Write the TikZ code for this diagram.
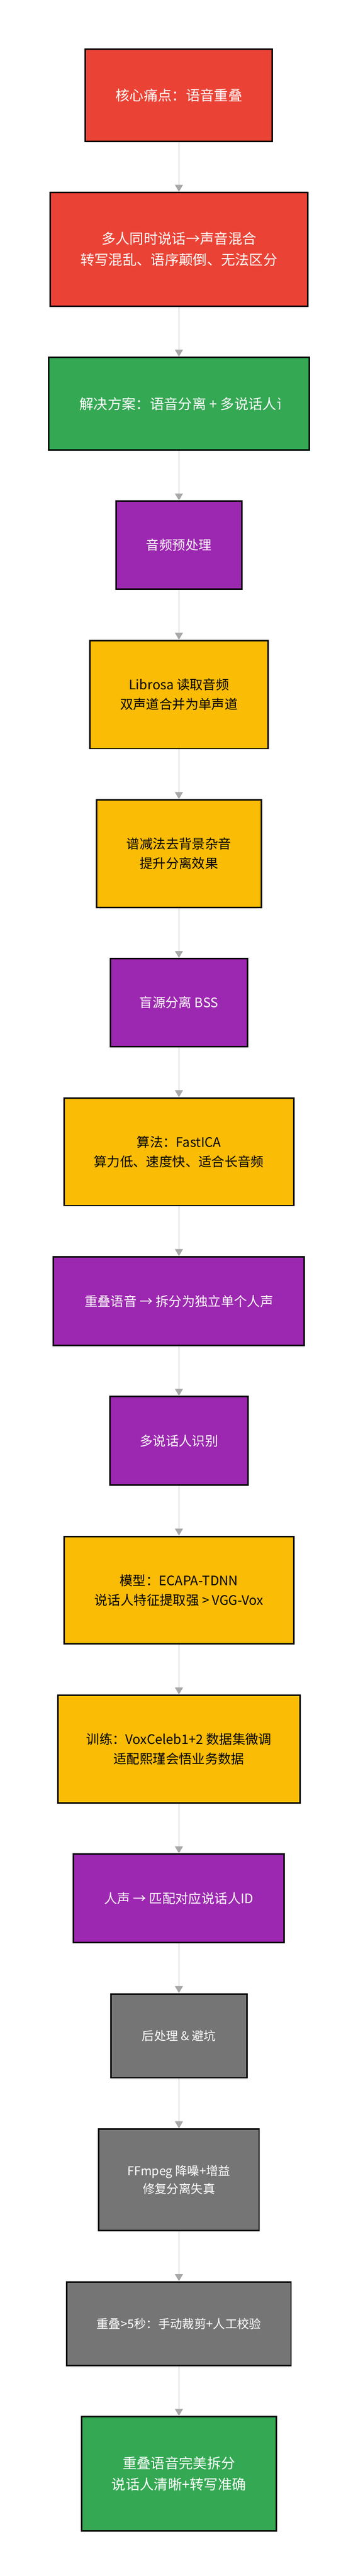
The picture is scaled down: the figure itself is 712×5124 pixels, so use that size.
\documentclass[tikz,border=0pt]{standalone}
\usepackage{fontspec}
\setmainfont{Noto Sans CJK SC}
\usepackage{tikz}
\usetikzlibrary{arrows.meta,positioning}

\definecolor{painred}{HTML}{EA4335}
\definecolor{okgreen}{HTML}{34A853}
\definecolor{stagepurple}{HTML}{9C27B0}
\definecolor{stepyellow}{HTML}{FABC05}
\definecolor{postgray}{HTML}{757575}
\definecolor{linkgray}{HTML}{A8A8A8}

\begin{document}
\begin{tikzpicture}[node distance=99pt, ->, >={Triangle[width=16pt,length=14pt]},
  box/.style={rectangle, draw=black, line width=3pt, align=center, inner sep=0pt},
  redbox/.style={box, fill=painred, text=white, font=\fontsize{28pt}{42pt}\selectfont},
  greenbox/.style={box, fill=okgreen, text=white, font=\fontsize{28pt}{42pt}\selectfont},
  purplebox/.style={box, fill=stagepurple, text=white, font=\fontsize{26pt}{39pt}\selectfont},
  yellowbox/.style={box, fill=stepyellow, text=black, font=\fontsize{26pt}{39pt}\selectfont},
  graybox/.style={box, fill=postgray, text=white, font=\fontsize{24pt}{36pt}\selectfont},
  link/.style={draw=linkgray, line width=1.4pt}]
\useasboundingbox (0,0) rectangle (712pt,-5124pt);

% problem
\node (pain) [redbox, minimum width=372pt, minimum height=183pt, anchor=north] at (356pt,-96.5pt) {核心痛点：语音重叠};
\node (mix) [redbox, minimum width=512pt, minimum height=226pt, below=of pain] {多人同时说话→声音混合\\转写混乱、语序颠倒、无法区分};
\node (solve) [greenbox, minimum width=519pt, minimum height=184pt, below=of mix] {};
\begin{scope}
\clip (solve.south west) rectangle ([xshift=-60pt]solve.north east);
\node (solvetext) [greenbox, draw=none, fill=none, anchor=west] at ([xshift=62pt]solve.west) {解决方案：语音分离 + 多说话人识别};
\end{scope}

% preprocessing
\node (prep) [purplebox, minimum width=250pt, minimum height=175pt, below=of solve] {音频预处理};
\node (load) [yellowbox, minimum width=354pt, minimum height=215pt, below=of prep] {Librosa 读取音频\\双声道合并为单声道};
\node (denoise) [yellowbox, minimum width=328pt, minimum height=214pt, below=of load] {谱减法去背景杂音\\提升分离效果};

% separation
\node (bss) [purplebox, minimum width=272pt, minimum height=175pt, below=of denoise] {盲源分离 BSS};
\node (ica) [yellowbox, minimum width=457pt, minimum height=214pt, below=of bss] {算法：FastICA\\算力低、速度快、适合长音频};
\node (split) [purplebox, minimum width=499pt, minimum height=176pt, below=of ica] {重叠语音 → 拆分为独立单个人声};

% speaker recognition
\node (spk) [purplebox, minimum width=275pt, minimum height=176pt, below=of split] {多说话人识别};
\node (ecapa) [yellowbox, minimum width=457pt, minimum height=214pt, below=of spk] {模型：ECAPA-TDNN\\说话人特征提取强 > VGG-Vox};
\node (train) [yellowbox, minimum width=482pt, minimum height=214pt, below=of ecapa] {训练：VoxCeleb1+2 数据集微调\\适配熙瑾会悟业务数据};
\node (match) [purplebox, minimum width=419pt, minimum height=176pt, below=of train] {人声 → 匹配对应说话人ID};

% post processing
\node (post) [graybox, minimum width=271pt, minimum height=167pt, below=of match] {后处理 \& 避坑};
\node (ffmpeg) [graybox, minimum width=319pt, minimum height=202pt, below=of post] {FFmpeg 降噪+增益\\修复分离失真};
\node (manual) [graybox, minimum width=446pt, minimum height=166pt, below=of ffmpeg] {重叠>5秒：手动裁剪+人工校验};
\node (done) [greenbox, minimum width=387pt, minimum height=227pt, below=of manual] {重叠语音完美拆分\\说话人清晰+转写准确};

\draw[link] (pain) -- (mix);
\draw[link] (mix) -- (solve);
\draw[link] (solve) -- (prep);
\draw[link] (prep) -- (load);
\draw[link] (load) -- (denoise);
\draw[link] (denoise) -- (bss);
\draw[link] (bss) -- (ica);
\draw[link] (ica) -- (split);
\draw[link] (split) -- (spk);
\draw[link] (spk) -- (ecapa);
\draw[link] (ecapa) -- (train);
\draw[link] (train) -- (match);
\draw[link] (match) -- (post);
\draw[link] (post) -- (ffmpeg);
\draw[link] (ffmpeg) -- (manual);
\draw[link] (manual) -- (done);
\end{tikzpicture}
\end{document}
